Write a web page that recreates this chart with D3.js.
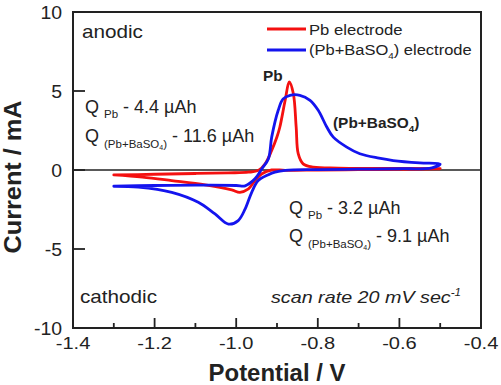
<!DOCTYPE html>
<meta charset="utf-8">
<style>
body { margin: 0; background: #fff; }
text { font-family: "Liberation Sans", Arial, sans-serif; fill: #222; }
.trace { fill: none; stroke-width: 2.8px; stroke-linejoin: round; stroke-linecap: round; }
</style>
<svg width="501" height="385"></svg>
<script src="https://cdn.jsdelivr.net/npm/d3@7"></script>
<script>

// [potential V, current mA]
var pbAnodic = [[-1.30,-0.31],[-1.20,-0.27],[-1.10,-0.22],[-1.02,-0.18],[-0.97,-0.14],[-0.945,-0.02],
  [-0.929,0.39],[-0.913,1.24],[-0.90,2.1],[-0.893,2.72],[-0.880,4.41],[-0.870,5.57],[-0.860,4.84],
  [-0.853,2.72],[-0.848,1.03],[-0.836,0.39],[-0.811,0.18],[-0.75,0.12],[-0.65,0.1],[-0.50,0.08]];
var pbCathodic = [[-0.50,0.08],[-0.60,0.04],[-0.70,0.02],[-0.80,0.0],[-0.88,-0.02],[-0.913,0.0],
  [-0.937,-0.24],[-0.954,-0.67],[-0.970,-1.2],[-0.991,-1.41],[-1.011,-1.26],[-1.076,-0.94],
  [-1.158,-0.67],[-1.23,-0.45],[-1.30,-0.31]];
var baAnodic = [[-1.30,-1.03],[-1.20,-0.98],[-1.10,-0.96],[-1.00,-0.98],[-0.978,-1.0],[-0.954,-0.56],
  [-0.937,0.08],[-0.921,0.71],[-0.913,2.08],[-0.897,3.78],[-0.885,4.5],[-0.868,4.73],[-0.844,4.73],
  [-0.819,4.41],[-0.799,3.78],[-0.778,2.72],[-0.762,2.08],[-0.729,1.45],[-0.697,1.03],[-0.65,0.75],
  [-0.615,0.6],[-0.55,0.45],[-0.50,0.38]];
var baCathodic = [[-0.50,0.38],[-0.52,0.14],[-0.60,0.08],[-0.70,0.05],[-0.80,0.03],[-0.88,-0.02],
  [-0.905,-0.14],[-0.921,-0.3],[-0.946,-0.67],[-0.962,-1.41],[-0.978,-2.46],[-0.995,-3.2],
  [-1.019,-3.42],[-1.052,-2.78],[-1.093,-2.04],[-1.158,-1.41],[-1.24,-1.08],[-1.30,-1.03]];

var xTicks = [-1.4, -1.2, -1.0, -0.8, -0.6, -0.4];
var xMinor = [-1.3, -1.1, -0.9, -0.7, -0.5];
var yTicks = [-10, -5, 0, 5, 10];

var svg = d3.select("svg");
var plotL = 73, plotR = 481, plotT = 12, plotB = 328;

var x = d3.scaleLinear().domain([-1.4, -0.4]).range([plotL, plotR]);
var y = d3.scaleLinear().domain([-10, 10]).range([plotB, plotT]);

// text in the original is a little wider than plain Arial, so each label gets its own x-stretch
function label(px, py, size, parts, opts) {
  opts = opts || {};
  var t = svg.append("g")
      .attr("transform", "translate(" + px + "," + py + ") scale(" + (opts.sx || 1) + ",1)")
    .append("text")
      .attr("font-size", size)
      .attr("font-weight", opts.weight || "normal")
      .attr("font-style", opts.style || "normal")
      .attr("text-anchor", opts.anchor || "start");
  var shift = 0;
  parts.forEach(function(p) {
    var s = typeof p === "string" ? {t: p} : p;
    var dy = 0, fs = size;
    if (s.sub) { dy = s.sub; fs = s.size; }
    if (s.sup) { dy = -s.sup; fs = s.size; }
    t.append("tspan")
      .attr("dy", dy - shift)
      .attr("font-size", fs)
      .text(s.t);
    shift = dy;
  });
  return t;
}

svg.append("line")
    .attr("x1", plotL).attr("x2", plotR)
    .attr("y1", y(0)).attr("y2", y(0))
    .attr("stroke", "#222").attr("stroke-width", 1.3);

var line = d3.line()
    .x(function(d) { return x(d[0]); })
    .y(function(d) { return y(d[1]); })
    .curve(d3.curveCatmullRom.alpha(0.5));

svg.append("path").datum(pbAnodic.concat(pbCathodic.slice(1)))
    .attr("class", "trace").attr("stroke", "#f41010").attr("d", line);
svg.append("path").datum(baAnodic.concat(baCathodic.slice(1)))
    .attr("class", "trace").attr("stroke", "#1414ee").attr("d", line);

// frame
svg.append("rect")
    .attr("x", plotL).attr("y", plotT)
    .attr("width", plotR - plotL).attr("height", plotB - plotT)
    .attr("fill", "none").attr("stroke", "#222").attr("stroke-width", 2);

// x axis, ticks inside
var gx = svg.append("g").attr("transform", "translate(0," + plotB + ")");
gx.selectAll(".major").data(xTicks).enter().append("line")
    .attr("x1", x).attr("x2", x).attr("y1", 0).attr("y2", -10)
    .attr("stroke", "#222").attr("stroke-width", 1.8);
gx.selectAll(".minor").data(xMinor).enter().append("line")
    .attr("x1", x).attr("x2", x).attr("y1", 0).attr("y2", -5)
    .attr("stroke", "#222").attr("stroke-width", 1.8);
xTicks.forEach(function(v) {
  label(x(v), 349, 17, [v.toFixed(1)], {anchor: "middle", sx: 1.18});
});

// y axis
svg.selectAll(".ytick").data(yTicks).enter().append("line")
    .attr("x1", plotL).attr("x2", plotL + 12)
    .attr("y1", y).attr("y2", y)
    .attr("stroke", "#222").attr("stroke-width", 1.8);
yTicks.forEach(function(v) {
  label(62, y(v) + 6.5, 18, [String(v)], {anchor: "end", sx: 1.08});
});

label(277, 381, 23, ["Potential / V"], {anchor: "middle", weight: "bold", sx: 1.04});
svg.append("text")
    .attr("transform", "translate(21,177) rotate(-90) scale(1.1,1)")
    .attr("text-anchor", "middle")
    .attr("font-size", 23).attr("font-weight", "bold")
    .text("Current / mA");

// legend
svg.append("line").attr("x1", 267).attr("x2", 306).attr("y1", 29).attr("y2", 29)
    .attr("stroke", "#f41010").attr("stroke-width", 2.8);
svg.append("line").attr("x1", 267).attr("x2", 306).attr("y1", 50).attr("y2", 50)
    .attr("stroke", "#1414ee").attr("stroke-width", 2.8);
label(309, 35, 15, ["Pb electrode"], {sx: 1.11});
label(309, 55, 15, ["(Pb+BaSO", {t: "4", sub: 4, size: 9}, ") electrode"], {sx: 1.1});

// annotations
label(82, 38, 18, ["anodic"], {sx: 1.15});
label(80, 303, 18, ["cathodic"], {sx: 1.15});
label(271, 303, 17, ["scan rate 20 mV sec", {t: "-1", sup: 7, size: 10}], {style: "italic", sx: 1.16});
label(263, 81, 14, ["Pb"], {weight: "bold", sx: 1.1});
label(333, 128, 14, ["(Pb+BaSO", {t: "4", sub: 4, size: 9}, ")"], {weight: "bold", sx: 1.1});

label(85, 113, 18, ["Q ", {t: "Pb", sub: 5, size: 11.5}, " - 4.4 \u00b5Ah"]);
label(85, 142, 18, ["Q ", {t: "(Pb+BaSO", sub: 6, size: 11.5}, {t: "4", sub: 8, size: 7},
  {t: ")", sub: 6, size: 11.5}, " - 11.6 \u00b5Ah"]);
label(289, 214, 18, ["Q ", {t: "Pb", sub: 5, size: 11.5}, " - 3.2 \u00b5Ah"]);
label(289, 242, 18, ["Q ", {t: "(Pb+BaSO", sub: 6, size: 11.5}, {t: "4", sub: 8, size: 7},
  {t: ")", sub: 6, size: 11.5}, " - 9.1 \u00b5Ah"]);

</script>
